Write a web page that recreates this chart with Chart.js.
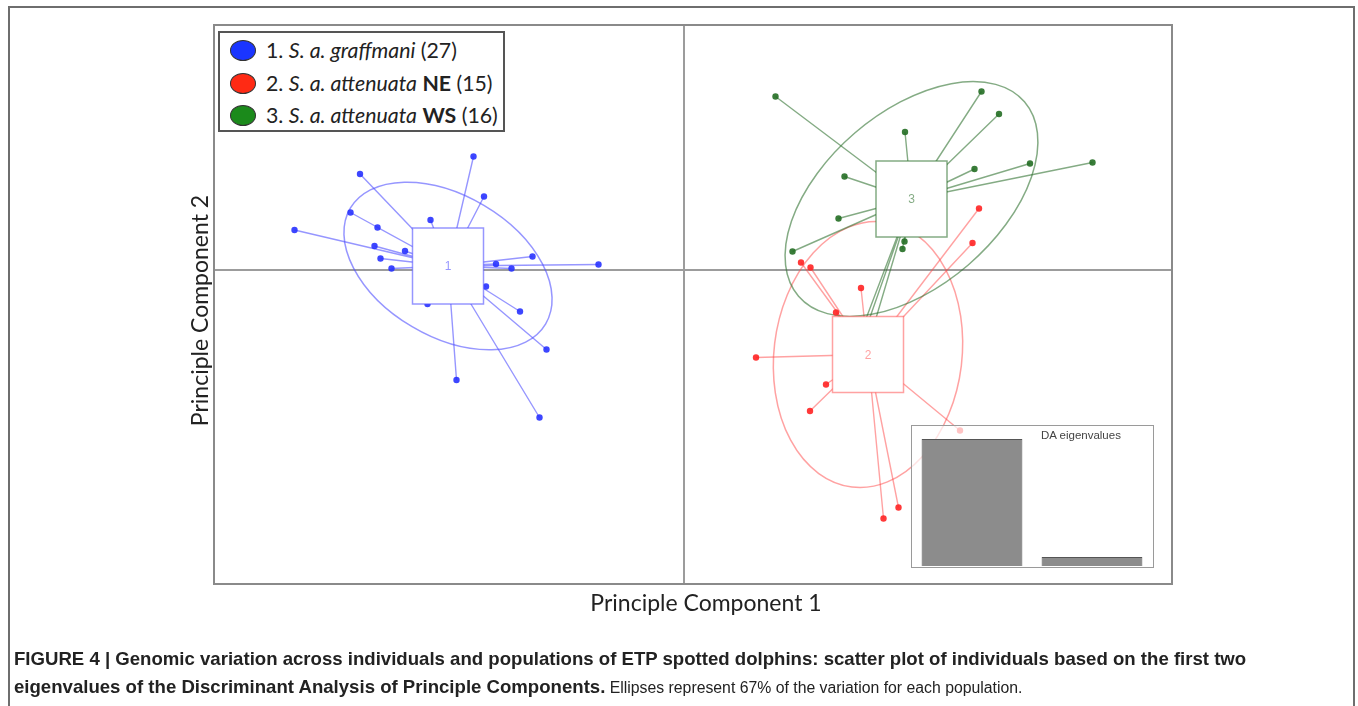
<!DOCTYPE html>
<html>
<head>
<meta charset="utf-8">
<title>DAPC scatter - ETP spotted dolphins</title>
<script src="https://cdn.jsdelivr.net/npm/chart.js@4.4.1/dist/chart.umd.min.js"></script>
<style>
  html, body { margin: 0; padding: 0; background: #fff; }
  body { width: 1358px; height: 706px; position: relative; overflow: hidden; font-family: "Liberation Sans", Arial, sans-serif; }
  .frame { position: absolute; left: 8px; top: 6px; width: 1347px; height: 760px; border: 2px solid #6e6e6e; box-sizing: border-box; }
  .main-wrap { position: absolute; left: 0; top: 0; width: 1358px; height: 706px; }
  .legend { position: absolute; left: 218px; top: 31px; width: 287px; height: 101px; border: 2px solid #555; box-sizing: border-box; background: #fff; font-family: Lato, "Open Sans", sans-serif; font-size: 21.3px; color: #222; }
  .legend-row { position: absolute; left: 0; height: 32px; line-height: 32px; white-space: nowrap; }
  .legend-dot { position: absolute; left: 10px; top: 6px; width: 26px; height: 21px; border-radius: 50%; border: 1.5px solid #333; box-sizing: border-box; }
  .legend-text { position: absolute; left: 46px; top: 0; }
  .inset { position: absolute; left: 911px; top: 425px; width: 243px; height: 143px; border: 1.5px solid #9a9a9a; box-sizing: border-box; background: rgba(255,255,255,0.7); }
  .inset-title { position: absolute; left: 129px; top: 3px; font-size: 11.5px; color: #444; white-space: nowrap; }
  .caption { position: absolute; left: 14px; top: 645px; line-height: 27px; color: #222; white-space: nowrap; font-size: 15.8px; }
  .caption b { font-weight: bold; font-size: 18.6px; }
</style>
</head>
<body>
<div class="frame"></div>
<div class="main-wrap"><canvas id="chartDapc"></canvas></div>
<div class="legend" id="dapcLegend"></div>
<div class="inset" id="eigenInset">
  <div style="position:absolute;left:0;top:0;width:240px;height:140px"><canvas id="chartEigen"></canvas></div>
  <div class="inset-title">DA eigenvalues</div>
</div>
<div class="caption">
  <b>FIGURE 4 | Genomic variation across individuals and populations of ETP spotted dolphins: scatter plot of individuals based on the first two</b><br>
  <b>eigenvalues of the Discriminant Analysis of Principle Components.</b> Ellipses represent 67% of the variation for each population.
</div>

<script>
/* ---- data (DA units) ---- */
const groupLabels = ['1', '2', '3'];
const groupNames = ['S. a. graffmani', 'S. a. attenuata', 'S. a. attenuata'];
const groupTags = ['', 'NE', 'WS'];
const groupCounts = [27, 15, 16];

// individuals: [PC1, PC2]
const graffmaniPts = [
  [-4.21, 2.27], [-6.48, 1.92], [-4.00, 1.47], [-6.67, 1.15], [-5.07, 1.00],
  [-7.79, 0.80], [-6.13, 0.85], [-6.19, 0.48], [-5.58, 0.38], [-6.07, 0.23],
  [-3.03, 0.27], [-3.76, 0.12], [-5.85, 0.03], [-3.45, 0.03], [-1.71, 0.11],
  [-3.96, -0.33], [-5.13, -0.68], [-3.28, -0.83], [-2.75, -1.59], [-4.55, -2.20],
  [-2.89, -2.95], [-4.90, 0.40], [-4.60, -0.20], [-4.30, 0.60], [-5.10, -0.30],
  [-4.50, 0.15], [-4.10, -0.45]
];
const attenuataNEPts = [
  [3.54, -0.36], [3.04, -0.85], [1.44, -1.75], [2.84, -2.29], [2.52, -2.82],
  [5.52, -3.21], [4.29, -4.75], [3.99, -4.97], [2.34, 0.15], [2.53, 0.05],
  [5.90, 1.23], [5.77, 0.54], [3.50, -1.50], [3.90, -1.90], [3.30, -2.10]
];
const attenuataWSPts = [
  [1.83, 3.47], [5.95, 3.57], [6.30, 3.12], [4.42, 2.76], [5.81, 2.02],
  [6.92, 2.13], [8.17, 2.15], [3.21, 1.87], [3.09, 1.03], [2.17, 0.37],
  [4.41, 0.57], [4.37, 0.42], [3.44, -1.50], [3.56, -1.40], [3.68, -1.50],
  [4.60, 1.40]
];

const centroids = [[-4.72, 0.08], [3.68, -1.69], [4.55, 1.42]];
const ellipseAxes = [[2.27, 1.41], [2.67, 1.88], [2.98, 1.74]]; // semi-axes
const ellipseAngles = [-30.6, 83.1, 40.7]; // degrees, counter-clockwise

const pc1Range = [-9.4, 9.76];
const pc2Range = [-6.28, 4.9];
const axisTitles = ['Principle Component 1', 'Principle Component 2'];

const eigenLabels = ['DA1', 'DA2'];
const eigenValues = [512, 36];

/* ---- styles ---- */
const groupPts = [graffmaniPts, attenuataNEPts, attenuataWSPts];
const pointColors = ['rgba(40,50,255,0.9)', 'rgba(255,35,35,0.9)', 'rgba(35,110,35,0.9)'];
const lineColors = ['rgba(80,80,255,0.6)', 'rgba(255,70,70,0.5)', 'rgba(50,115,50,0.6)'];
const legendColors = ['#1a35ff', '#ff2a14', '#1b8a1b'];

/* ---- legend ---- */
document.getElementById('dapcLegend').innerHTML = groupLabels.map((lab, i) =>
  `<div class="legend-row" style="top:${1 + i * 32.5}px">
     <span class="legend-dot" style="background:${legendColors[i]}"></span>
     <span class="legend-text">${lab}. <i>${groupNames[i]}</i>${groupTags[i] ? ' <b>' + groupTags[i] + '</b>' : ''} (${groupCounts[i]})</span>
   </div>`
).join('');

/* ---- stars, ellipses and centroid boxes (s.class style) ---- */
const dapcPlugin = {
  id: 'dapcDecor',
  beforeDatasetsDraw(chart) {
    const { ctx, chartArea: a, scales: { x, y } } = chart;
    ctx.save();
    ctx.beginPath();
    ctx.rect(a.left, a.top, a.right - a.left, a.bottom - a.top);
    ctx.clip();

    // axes through the origin
    const x0 = x.getPixelForValue(0), y0 = y.getPixelForValue(0);
    ctx.strokeStyle = '#9c9c9c';
    ctx.lineWidth = 2;
    ctx.beginPath();
    ctx.moveTo(x0, a.top); ctx.lineTo(x0, a.bottom);
    ctx.moveTo(a.left, y0); ctx.lineTo(a.right, y0);
    ctx.stroke();

    const sx = x.getPixelForValue(1) - x.getPixelForValue(0);
    const sy = y.getPixelForValue(0) - y.getPixelForValue(1);

    groupPts.forEach((pts, i) => {
      const cx = x.getPixelForValue(centroids[i][0]);
      const cy = y.getPixelForValue(centroids[i][1]);
      ctx.strokeStyle = lineColors[i];
      ctx.lineWidth = 1.4;
      ctx.beginPath();
      pts.forEach(p => {
        ctx.moveTo(cx, cy);
        ctx.lineTo(x.getPixelForValue(p[0]), y.getPixelForValue(p[1]));
      });
      ctx.stroke();

      // ellipse in data space
      ctx.beginPath();
      ctx.save();
      ctx.translate(cx, cy);
      ctx.scale(sx, -sy);
      ctx.rotate(ellipseAngles[i] * Math.PI / 180);
      ctx.ellipse(0, 0, ellipseAxes[i][0], ellipseAxes[i][1], 0, 0, Math.PI * 2);
      ctx.restore();
      ctx.lineWidth = 1.5;
      ctx.stroke();
    });
    ctx.restore();
  },
  afterDatasetsDraw(chart) {
    const { ctx, chartArea: a, scales: { x, y } } = chart;
    const bw = 71, bh = 76;
    ctx.save();
    centroids.forEach((c, i) => {
      const cx = x.getPixelForValue(c[0]);
      const cy = y.getPixelForValue(c[1]);
      ctx.fillStyle = '#fff';
      ctx.fillRect(cx - bw / 2, cy - bh / 2, bw, bh);
      ctx.strokeStyle = lineColors[i];
      ctx.lineWidth = 1.5;
      ctx.strokeRect(cx - bw / 2, cy - bh / 2, bw, bh);
      ctx.fillStyle = lineColors[i];
      ctx.font = '12px "Liberation Sans", Arial, sans-serif';
      ctx.textAlign = 'center';
      ctx.textBaseline = 'middle';
      ctx.fillText(groupLabels[i], cx, cy + 1);
    });
    // plot frame
    ctx.strokeStyle = '#8a8a8a';
    ctx.lineWidth = 2;
    ctx.strokeRect(a.left, a.top, a.right - a.left, a.bottom - a.top);

    // axis titles
    ctx.fillStyle = '#222';
    ctx.font = '23px Lato, "Open Sans", sans-serif';
    ctx.textAlign = 'center';
    ctx.textBaseline = 'middle';
    ctx.fillText(axisTitles[0], (a.left + a.right) / 2 + 13, a.bottom + 20);
    ctx.translate(a.left - 13, (a.top + a.bottom) / 2 + 6);
    ctx.rotate(-Math.PI / 2);
    ctx.fillText(axisTitles[1], 0, 0);
    ctx.restore();
  }
};

new Chart(document.getElementById('chartDapc'), {
  type: 'scatter',
  data: {
    datasets: groupPts.map((pts, i) => ({
      label: groupLabels[i],
      data: pts.map(p => ({ x: p[0], y: p[1] })),
      pointRadius: 3.2,
      pointBackgroundColor: pointColors[i],
      pointBorderWidth: 0,
      showLine: false
    }))
  },
  options: {
    responsive: true, maintainAspectRatio: false, animation: false,
    layout: { padding: { left: 214, top: 25, right: 186, bottom: 122 } },
    scales: {
      x: { type: 'linear', display: false, min: pc1Range[0], max: pc1Range[1] },
      y: { type: 'linear', display: false, min: pc2Range[0], max: pc2Range[1] }
    },
    plugins: { legend: { display: false }, tooltip: { enabled: false } }
  },
  plugins: [dapcPlugin]
});

/* ---- inset: DA eigenvalues ---- */
new Chart(document.getElementById('chartEigen'), {
  type: 'bar',
  data: {
    labels: eigenLabels,
    datasets: [{
      data: eigenValues,
      backgroundColor: '#8c8c8c',
      borderColor: '#555',
      borderWidth: 1,
      categoryPercentage: 1,
      barPercentage: 0.84
    }]
  },
  options: {
    responsive: true, maintainAspectRatio: false, animation: false,
    layout: { padding: 0 },
    scales: {
      x: { display: false },
      y: { display: false, min: 0, max: 564 }
    },
    plugins: { legend: { display: false }, tooltip: { enabled: false } }
  }
});
</script>
</body>
</html>
